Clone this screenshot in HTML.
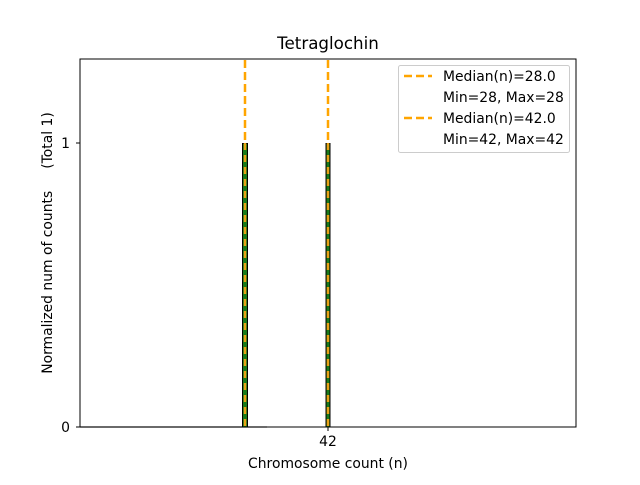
<!DOCTYPE html>
<html><head><meta charset="utf-8"><style>
body{margin:0;background:#fff}
svg text{font-family:"DejaVu Sans","Liberation Sans",sans-serif;fill:#000}
</style></head><body>
<svg width="640" height="480" xmlns="http://www.w3.org/2000/svg">
<rect width="640" height="480" fill="#fff"/>
<line x1="80" y1="427" x2="267" y2="427" stroke="#aaa" stroke-width="1.5"/>
<rect x="242.5" y="143.5" width="5" height="283.5" fill="#1a7a1a" stroke="#000" stroke-width="1"/>
<line x1="245" y1="143" x2="245" y2="427" stroke="#e8a317" stroke-width="2.5" stroke-dasharray="7,5"/>
<rect x="326" y="143.5" width="4" height="283.5" fill="#1a7a1a" stroke="#000" stroke-width="1"/>
<line x1="328" y1="143" x2="328" y2="427" stroke="#e8a317" stroke-width="2.5" stroke-dasharray="7,5"/>
<line x1="245" y1="60" x2="245" y2="143" stroke="#ffa500" stroke-width="2.5" stroke-dasharray="8,4"/>
<line x1="328" y1="60" x2="328" y2="143" stroke="#ffa500" stroke-width="2.5" stroke-dasharray="8,4"/>
<rect x="80" y="59" width="496" height="368" fill="none" stroke="#000" stroke-width="1"/>
<line x1="76" y1="143" x2="80" y2="143" stroke="#000"/>
<line x1="76" y1="427" x2="80" y2="427" stroke="#000"/>
<line x1="328" y1="427" x2="328" y2="431" stroke="#000"/>
<text x="70" y="148" font-size="13.9" text-anchor="end">1</text>
<text x="70" y="432" font-size="13.9" text-anchor="end">0</text>
<text x="328" y="446" font-size="13.9" text-anchor="middle">42</text>
<text x="328" y="468" font-size="13.9" text-anchor="middle">Chromosome count (n)</text>
<text transform="translate(52,243) rotate(-90)" font-size="13.9" text-anchor="middle" xml:space="preserve" style="white-space:pre">Normalized num of counts     (Total 1)</text>
<text x="328" y="49" font-size="16.7" text-anchor="middle">Tetraglochin</text>
<rect x="398.5" y="65.5" width="171" height="87" rx="2" fill="#fff" stroke="#ccc"/>
<line x1="404" y1="76" x2="432" y2="76" stroke="#ffa500" stroke-width="2.5" stroke-dasharray="8,4"/>
<line x1="404" y1="118" x2="432" y2="118" stroke="#ffa500" stroke-width="2.5" stroke-dasharray="8,4"/>
<text x="443" y="81" font-size="13.9">Median(n)=28.0</text>
<text x="443" y="102" font-size="13.9">Min=28, Max=28</text>
<text x="443" y="123" font-size="13.9">Median(n)=42.0</text>
<text x="443" y="144" font-size="13.9">Min=42, Max=42</text>
</svg>
</body></html>
